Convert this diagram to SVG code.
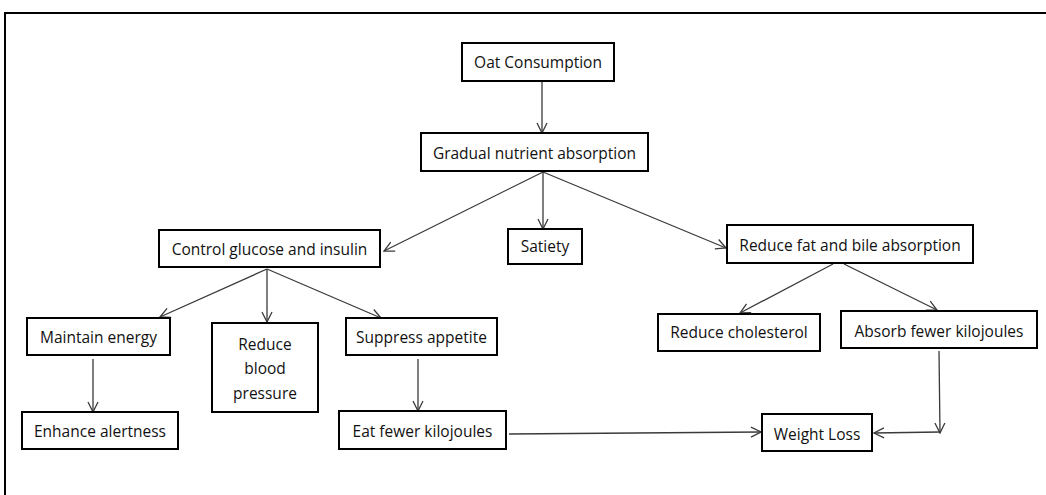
<svg xmlns="http://www.w3.org/2000/svg" width="1046" height="495" viewBox="0 0 1046 495">
<style>
.box{fill:#fff;stroke:#000;stroke-width:2}
.t{font-family:"Open Sans","Liberation Sans",sans-serif;font-size:15.5px;fill:#111;text-anchor:middle;dominant-baseline:central}
.c{stroke:#3a3a3a;stroke-width:1.3;fill:none;marker-end:url(#ah)}
</style>
<defs>
<marker id="ah" viewBox="0 0 12 12" refX="11" refY="6" markerWidth="12" markerHeight="12" markerUnits="userSpaceOnUse" orient="auto">
<path d="M1,1 L11,6 L1,11" fill="none" stroke="#3a3a3a" stroke-width="1.3"/>
</marker>
</defs>
<rect x="0" y="0" width="1046" height="495" fill="#fff"/>
<path d="M5,495 L5,13 L1046,13" fill="none" stroke="#000" stroke-width="2"/>
<g id="connectors">
<line class="c" x1="542" y1="81" x2="542" y2="133"/>
<line class="c" x1="543" y1="172" x2="384" y2="251"/>
<line class="c" x1="543" y1="172" x2="543" y2="229"/>
<line class="c" x1="543" y1="172" x2="726" y2="248"/>
<line class="c" x1="267" y1="269" x2="160" y2="317"/>
<line class="c" x1="267" y1="269" x2="267" y2="322"/>
<line class="c" x1="267" y1="269" x2="381" y2="318"/>
<line class="c" x1="93" y1="359" x2="93" y2="412"/>
<line class="c" x1="418" y1="359" x2="418" y2="411"/>
<line class="c" x1="833" y1="264" x2="740" y2="313"/>
<line class="c" x1="844" y1="264" x2="937" y2="310"/>
<line class="c" x1="939" y1="351" x2="940" y2="433"/>
<line class="c" x1="940" y1="432" x2="874" y2="433"/>
<line class="c" x1="509" y1="434" x2="761" y2="432"/>
</g>
<g id="oat"><rect class="box" x="462" y="43" width="152" height="38"/><text class="t" x="538" y="62">Oat Consumption</text></g>
<g id="gradual"><rect class="box" x="421" y="133" width="227" height="38"/><text class="t" x="534.5" y="153">Gradual nutrient absorption</text></g>
<g id="control"><rect class="box" x="159" y="230" width="221" height="37"/><text class="t" x="269.5" y="249">Control glucose and insulin</text></g>
<g id="satiety"><rect class="box" x="508" y="229" width="74" height="35"/><text class="t" x="545" y="246">Satiety</text></g>
<g id="reducefat"><rect class="box" x="727" y="225" width="246" height="38"/><text class="t" x="850" y="245">Reduce fat and bile absorption</text></g>
<g id="maintain"><rect class="box" x="27" y="318" width="143" height="37"/><text class="t" x="98.5" y="337">Maintain energy</text></g>
<g id="bp"><rect class="box" x="212" y="323" width="106" height="89"/><text class="t" x="265" y="344">Reduce</text><text class="t" x="265" y="368">blood</text><text class="t" x="265" y="393">pressure</text></g>
<g id="suppress"><rect class="box" x="346" y="318" width="151" height="37"/><text class="t" x="421.5" y="337">Suppress appetite</text></g>
<g id="enhance"><rect class="box" x="22" y="412" width="156" height="37"/><text class="t" x="100" y="431">Enhance alertness</text></g>
<g id="eatfewer"><rect class="box" x="339" y="411" width="167" height="38"/><text class="t" x="422.5" y="431">Eat fewer kilojoules</text></g>
<g id="cholesterol"><rect class="box" x="658" y="314" width="162" height="37"/><text class="t" x="739" y="332">Reduce cholesterol</text></g>
<g id="absorb"><rect class="box" x="841" y="311" width="196" height="37"/><text class="t" x="939" y="331">Absorb fewer kilojoules</text></g>
<g id="weightloss"><rect class="box" x="762" y="414" width="110" height="37"/><text class="t" x="817" y="434">Weight Loss</text></g>
</svg>
